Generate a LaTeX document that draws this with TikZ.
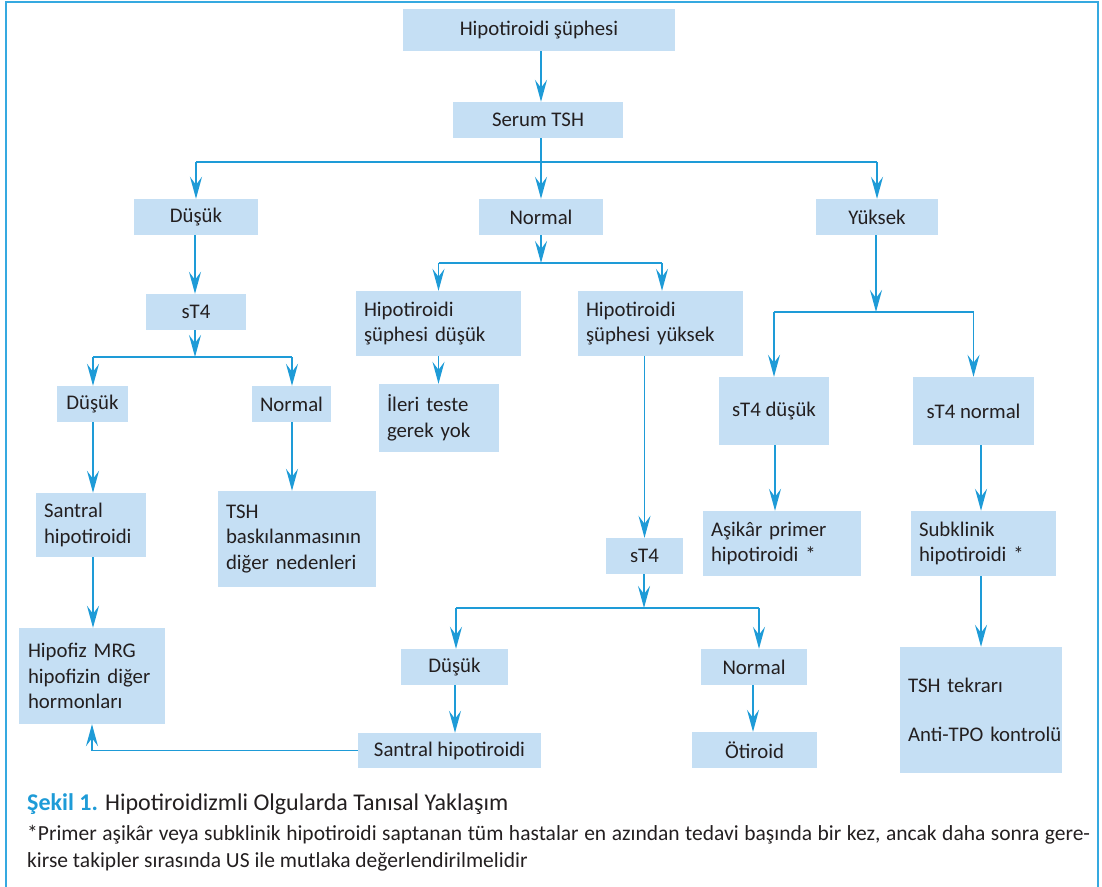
\documentclass[tikz,border=0pt]{standalone}
\usepackage{fontspec}
\setmainfont{Carlito}
\usetikzlibrary{arrows.meta}
\definecolor{boxfill}{HTML}{C5DFF4}
\definecolor{linec}{HTML}{1E9BD7}
\definecolor{framec}{HTML}{35A9E0}
\definecolor{textc}{HTML}{231F20}
\tikzset{
  box/.style={fill=boxfill, draw=none, inner sep=0pt, text=textc, font=\fontsize{20.8}{25.5}\selectfont},
  lbox/.style={box, align=left},
  ln/.style={draw=linec, line width=1.5pt},
  arr/.style={ln, -{Stealth[length=22pt, width=12pt, inset=8pt]}},
  captext/.style={anchor=base west, inner sep=0pt, text=textc},
}
\newcommand{\bx}[7]{% name, cx, cy, W, H, pad, text
  \node[lbox, text width=#4pt-2*#6pt, inner xsep=#6pt, minimum height=#5pt] (#1) at (#2,#3) {\hbadness10000 \hfuzz100pt #7};}
\begin{document}
\begin{tikzpicture}[x=1pt,y=-1pt]
\useasboundingbox (0,0) rectangle (1102,886);
\draw[framec, line width=2pt] (6,887) -- (6,2) -- (1098,2) -- (1098,887);

% single-line boxes
\node[box, minimum width=272pt, minimum height=42pt] (hs) at (539,30) {Hipotiroidi şüphesi};
\node[box, minimum width=170pt, minimum height=36pt] (tsh) at (538,120) {Serum TSH};
\node[box, minimum width=124pt, minimum height=36pt] (d1) at (196,217) {Düşük};
\node[box, minimum width=124pt, minimum height=36pt] (n1) at (541,217) {Normal};
\node[box, minimum width=122pt, minimum height=36pt] (y1) at (877,217) {Yüksek};
\node[box, minimum width=100pt, minimum height=36pt] (st1) at (196,312) {sT4};
\node[box, minimum width=71pt, minimum height=36pt] (d2) at (92.5,404) {Düşük};
\node[box, minimum width=79pt, minimum height=36pt] (n2) at (291.5,404) {Normal};
\node[box, minimum width=110pt, minimum height=68pt] (st4d) at (774,411) {sT4 düşük};
\node[box, minimum width=121pt, minimum height=68pt] (st4n) at (973.5,411) {sT4 normal};
\node[box, minimum width=77pt, minimum height=36pt] (st2) at (644.5,556) {sT4};
\node[box, minimum width=107pt, minimum height=36pt] (d3) at (454.5,667) {Düşük};
\node[box, minimum width=106pt, minimum height=36pt] (n3) at (754,667) {Normal};
\node[box, minimum width=183pt, minimum height=35pt] (sh2) at (449.5,750.5) {Santral hipotiroidi};
\node[box, minimum width=125pt, minimum height=36pt] (oti) at (754.5,750) {Ötiroid};

% multi-line boxes
\bx{hsd}{438.5}{323.5}{165}{65}{8}{\mbox{Hipotiroidi}\\\mbox{şüphesi düşük}}
\bx{hsy}{660.5}{323.5}{165}{65}{8}{\mbox{Hipotiroidi}\\\mbox{şüphesi yüksek}}
\bx{ily}{439}{418}{120}{68}{8}{\mbox{İleri teste}\\\mbox{gerek yok}}
\bx{sh1}{91}{525}{110}{64}{8}{\mbox{Santral}\\\mbox{hipotiroidi}}
\bx{tshb}{297}{539}{158}{96}{8}{\mbox{TSH}\\\mbox{baskılanmasının}\\\mbox{diğer nedenleri}}
\bx{asp}{782}{543.5}{158}{65}{8}{\mbox{Aşikâr primer}\\\mbox{hipotiroidi *}}
\bx{sub}{983.5}{543.5}{145}{65}{8}{\mbox{Subklinik}\\\mbox{hipotiroidi *}}
\bx{hip}{92}{676}{146}{96}{9}{\mbox{Hipofiz MRG}\\\mbox{hipofizin diğer}\\\mbox{hormonları}}
\bx{tsht}{981}{710}{162}{126}{8}{\mbox{TSH tekrarı}\\[23pt]\mbox{Anti-TPO kontrolü}}

% junction coordinates
\coordinate (j1) at (541,162);
\coordinate (j2) at (195,357);
\coordinate (j3) at (541,263);
\coordinate (j4) at (876,312);
\coordinate (j5) at (644,608);

% connectors
\draw[arr] (hs.south -| j1) -- (tsh.north -| j1);
\draw[ln] (tsh.south -| j1) -- (j1);
\draw[ln] (d1.north |- j1) -- (y1.north |- j1);
\draw[arr] (d1.north |- j1) -- (d1.north);
\draw[arr] (j1) -- (n1.north -| j1);
\draw[arr] (y1.north |- j1) -- (y1.north);

\draw[arr] (d1.south -| j2) -- (st1.north -| j2);
\draw[arr] (st1.south -| j2) -- (j2);
\draw[ln] (93,357) -- (292,357);
\draw[arr] (93,357) -- (d2.north -| 93,0);
\draw[arr] (292,357) -- (n2.north -| 292,0);

\draw[arr] (n1.south -| j3) -- (j3);
\draw[ln] (hsd.north |- j3) -- (662,263);
\draw[arr] (hsd.north |- j3) -- (hsd.north);
\draw[arr] (662,263) -- (hsy.north -| 662,0);

\draw[arr] (y1.south -| j4) -- (j4);
\draw[ln] (st4d.north |- j4) -- (st4n.north |- j4);
\draw[arr] (st4d.north |- j4) -- (st4d.north);
\draw[arr] (st4n.north |- j4) -- (st4n.north);

\draw[arr] (hsd.south) -- (ily.north -| hsd.south);
\draw[arr] (hsy.south -| st2.north) -- (st2.north);
\draw[arr] (d2.south -| 93,0) -- (sh1.north -| 93,0);
\draw[arr] (n2.south -| 292,0) -- (tshb.north -| 292,0);
\draw[arr] (st4d.south -| 775,0) -- (asp.north -| 775,0);
\draw[arr] (st4n.south -| tsht.north) -- (sub.north -| tsht.north);
\draw[arr] (sh1.south -| 93,0) -- (hip.north -| 93,0);
\draw[arr] (sub.south -| tsht.north) -- (tsht.north);

\draw[arr] (st2.south -| j5) -- (j5);
\draw[ln] (456,608) -- (759,608);
\draw[arr] (456,608) -- (d3.north -| 456,0);
\draw[arr] (759,608) -- (n3.north -| 759,0);
\draw[arr] (d3.south -| 455,0) -- (sh2.north -| 455,0);
\draw[arr] (n3.south -| 753,0) -- (oti.north -| 753,0);
\draw[arr] (sh2.west) -| (hip.south);

% caption
\node[captext, font=\fontsize{24}{28}\selectfont] (cap) at (27,810) {\textcolor{linec}{\bfseries Şekil 1.} Hipotiroidizmli Olgularda Tanısal Yaklaşım};
\node[captext, font=\fontsize{21.5}{24}\selectfont] (fn1) at (27,840) {\makebox[1063pt][s]{*Primer aşikâr veya subklinik hipotiroidi saptanan tüm hastalar en azından tedavi başında bir kez, ancak daha sonra gere-}};
\node[captext, font=\fontsize{21.5}{24}\selectfont] (fn2) at (27,867) {kirse takipler sırasında US ile mutlaka değerlendirilmelidir};
\end{tikzpicture}
\end{document}
